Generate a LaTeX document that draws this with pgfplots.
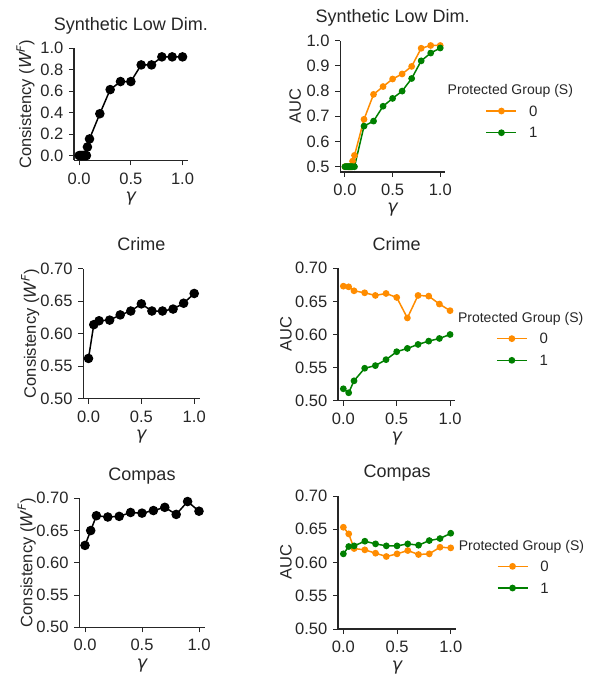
\documentclass[border=0pt]{standalone}
\usepackage{fontspec}
\setmainfont{Liberation Sans}
\newfontfamily\dejavu{DejaVu Sans}
\usepackage{pgfplots}
\pgfplotsset{compat=1.18}

\definecolor{txt}{HTML}{262626}
\definecolor{sborange}{HTML}{FF8C00}
\definecolor{sbgreen}{HTML}{008000}

\newcommand{\ticksize}{\fontsize{16.5}{16.5}\selectfont}
\newcommand{\labsize}{\fontsize{16.5}{16.5}\selectfont}
\newcommand{\titlesize}{\fontsize{18}{18}\selectfont}
\newcommand{\gam}{{\dejavu\itshape γ}}

\pgfplotsset{
  panel/.style={
    scale only axis,
    anchor=south west,
    axis x line*=bottom, axis y line*=left,
    axis line style={txt, line width=1.1pt},
    tick align=outside, major tick length=5pt,
    tick style={txt, line width=1pt},
    xmin=-0.05, xmax=1.05,
    xtick={0,0.5,1},
    /pgf/number format/assume math mode=true,
    ticklabel style={font=\ticksize, text=txt, inner sep=0pt},
    xticklabel style={anchor=center, yshift=-13pt,
      /pgf/number format/.cd, fixed, fixed zerofill, precision=1},
    yticklabel style={anchor=east, xshift=-5.5pt},
    clip=false,
  },
  auc/.style={
    panel,
    legend style={at={(1,1)}, anchor=north west, xshift=40.5pt, yshift=-64.9pt,
      draw=none, fill=none, inner sep=0pt, row sep=11.3pt, column sep=12pt,
      font=\fontsize{15}{15}\selectfont, text=txt,
      nodes={inner sep=0pt, text depth=0pt}},
    legend cell align=left,
    legend image code/.code={
      \draw[mark repeat=2, mark phase=2] plot coordinates {(0pt,0pt) (15pt,0pt) (30pt,0pt)};},
  },
  two/.style={yticklabel style={/pgf/number format/.cd, fixed, fixed zerofill, precision=2}},
  gz/.style={sborange, line width=1.5pt, mark=*, mark size=2.6pt},
  gone/.style={sbgreen, line width=1.5pt, mark=*, mark size=2.6pt},
  cons/.style={black, line width=1.5pt, mark=*, mark size=4pt},
}

\begin{document}
\begin{tikzpicture}
\useasboundingbox (0pt,0pt) rectangle (595pt,675pt);

% ---- Synthetic Low Dim.
\begin{axis}[panel, name=p1, at={(74pt,514.5pt)}, width=113.7pt, height=112.2pt,
  ymin=-0.046, ymax=1.0, ytick={0,0.2,0.4,0.6,0.8,1.0},
  yticklabel style={/pgf/number format/.cd, fixed, fixed zerofill, precision=1}]
\addplot[cons] coordinates {(0,0) (0.01,0) (0.02,0) (0.03,0) (0.04,0) (0.05,0) (0.06,0) (0.07,0)
  (0.08,0.08) (0.1,0.155) (0.2,0.39) (0.3,0.615) (0.4,0.69) (0.5,0.69) (0.6,0.845)
  (0.7,0.845) (0.8,0.92) (0.9,0.92) (1.0,0.92)};
\end{axis}

\begin{axis}[auc, name=p2, at={(340.2pt,503pt)}, width=104.8pt, height=131.3pt,
  ymin=0.479, ymax=1.0, ytick={0.5,0.6,0.7,0.8,0.9,1.0},
  yticklabel style={/pgf/number format/.cd, fixed, fixed zerofill, precision=1}]
\addplot[gz] coordinates {(0,0.5) (0.01,0.5) (0.02,0.5) (0.03,0.5) (0.04,0.5) (0.05,0.5) (0.06,0.5)
  (0.07,0.5) (0.08,0.522) (0.1,0.545) (0.2,0.688) (0.3,0.787) (0.4,0.818) (0.5,0.848)
  (0.6,0.868) (0.7,0.898) (0.8,0.97) (0.9,0.981) (1.0,0.981)};
\addplot[gone] coordinates {(0,0.5) (0.01,0.5) (0.02,0.5) (0.03,0.5) (0.04,0.5) (0.05,0.5) (0.06,0.5)
  (0.07,0.5) (0.08,0.5) (0.1,0.5) (0.2,0.661) (0.3,0.681) (0.4,0.74) (0.5,0.771)
  (0.6,0.80) (0.7,0.85) (0.8,0.92) (0.9,0.951) (1.0,0.971)};
\legend{0,1}
\end{axis}

% ---- Crime
\begin{axis}[panel, two, name=p3, at={(83.2pt,276.3pt)}, width=116.3pt, height=129.9pt,
  ymin=0.5, ymax=0.7, ytick={0.5,0.55,0.6,0.65,0.7}]
\addplot[cons] coordinates {(0,0.562) (0.05,0.614) (0.1,0.620) (0.2,0.621) (0.3,0.629) (0.4,0.635)
  (0.5,0.646) (0.6,0.635) (0.7,0.635) (0.8,0.638) (0.9,0.647) (1.0,0.662)};
\end{axis}

\begin{axis}[auc, two, name=p4, at={(338pt,274.3pt)}, width=117.4pt, height=132.4pt,
  ymin=0.5, ymax=0.7, ytick={0.5,0.55,0.6,0.65,0.7}]
\addplot[gz] coordinates {(0,0.673) (0.05,0.672) (0.1,0.666) (0.2,0.663) (0.3,0.659) (0.4,0.662)
  (0.5,0.656) (0.6,0.625) (0.7,0.659) (0.8,0.658) (0.9,0.646) (1.0,0.636)};
\addplot[gone] coordinates {(0,0.518) (0.05,0.512) (0.1,0.530) (0.2,0.549) (0.3,0.553) (0.4,0.562)
  (0.5,0.574) (0.6,0.579) (0.7,0.585) (0.8,0.590) (0.9,0.594) (1.0,0.600)};
\legend{0,1}
\end{axis}

% ---- Compas
\begin{axis}[panel, two, name=p5, at={(79.3pt,47.7pt)}, width=125.4pt, height=129pt,
  ymin=0.5, ymax=0.7, ytick={0.5,0.55,0.6,0.65,0.7}]
\addplot[cons] coordinates {(0,0.627) (0.05,0.650) (0.1,0.673) (0.2,0.671) (0.3,0.672) (0.4,0.678)
  (0.5,0.677) (0.6,0.681) (0.7,0.686) (0.8,0.675) (0.9,0.695) (1.0,0.680)};
\end{axis}

\begin{axis}[auc, two, name=p6, at={(338pt,46pt)}, width=118.1pt, height=133pt,
  ymin=0.5, ymax=0.7, ytick={0.5,0.55,0.6,0.65,0.7}]
\addplot[gz] coordinates {(0,0.653) (0.05,0.643) (0.1,0.621) (0.2,0.619) (0.3,0.614) (0.4,0.609)
  (0.5,0.613) (0.6,0.618) (0.7,0.612) (0.8,0.613) (0.9,0.623) (1.0,0.622)};
\addplot[gone] coordinates {(0,0.613) (0.05,0.624) (0.1,0.625) (0.2,0.632) (0.3,0.628) (0.4,0.625)
  (0.5,0.625) (0.6,0.628) (0.7,0.626) (0.8,0.633) (0.9,0.636) (1.0,0.644)};
\legend{0,1}
\end{axis}

% titles, axis labels, legend titles
\begin{scope}[every node/.style={text=txt}]
\node[anchor=base, font=\titlesize] at ([yshift=18pt]p1.north) {Synthetic Low Dim.};
\node[anchor=base, font=\titlesize] at ([yshift=18pt]p2.north) {Synthetic Low Dim.};
\node[anchor=base, font=\titlesize] at ([yshift=18pt]p3.north) {Crime};
\node[anchor=base, font=\titlesize] at ([yshift=18pt]p4.north) {Crime};
\node[anchor=base, font=\titlesize] at ([yshift=18pt]p5.north) {Compas};
\node[anchor=base, font=\titlesize] at ([yshift=18pt]p6.north) {Compas};
\foreach \p in {p1,p2,p3,p4,p5,p6}
  \node[anchor=base, font=\fontsize{17.5}{17.5}\selectfont] at ([yshift=-41pt]\p.south) {\gam};
\node[rotate=90, font=\labsize] at ([xshift=-48.5pt]p1.west) {Consistency ({\dejavu\itshape W\textsuperscript{F}})};
\node[rotate=90, font=\labsize] at ([xshift=-53pt]p3.west) {Consistency ({\dejavu\itshape W\textsuperscript{F}})};
\node[rotate=90, font=\labsize] at ([xshift=-52.5pt]p5.west) {Consistency ({\dejavu\itshape W\textsuperscript{F}})};
\node[rotate=90, font=\labsize] at ([xshift=-45pt]p2.west) {AUC};
\node[rotate=90, font=\labsize] at ([xshift=-52pt]p4.west) {AUC};
\node[rotate=90, font=\labsize] at ([xshift=-52pt]p6.west) {AUC};
\foreach \p in {p2,p4,p6}
  \node[font=\fontsize{14}{14}\selectfont] at ([xshift=65.3pt,yshift=-50.5pt]\p.north east) {Protected Group (S)};
\end{scope}
\end{tikzpicture}
\end{document}
